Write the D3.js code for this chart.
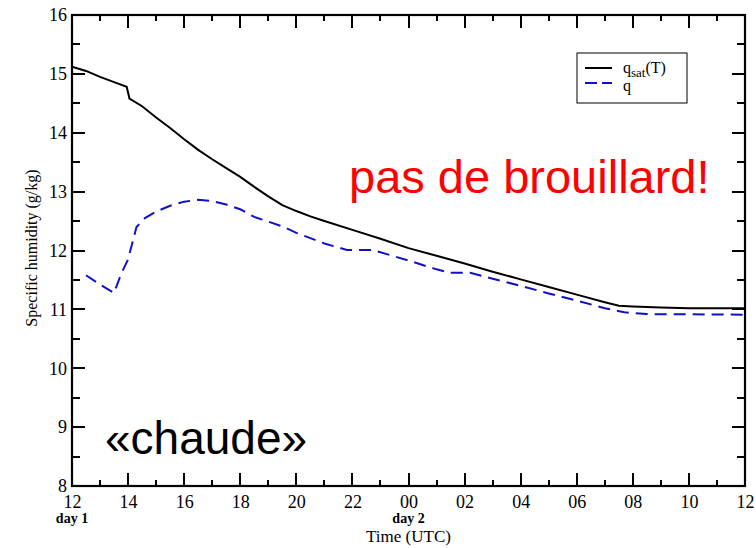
<!DOCTYPE html>
<html>
<head>
<meta charset="utf-8">
<script src="https://cdn.jsdelivr.net/npm/d3@7"></script>
<style>
  body { margin: 0; background: #fff; }
  svg { display: block; }
  .axis text { font-family: "Liberation Serif", "Times New Roman", serif; font-size: 18px; fill: #000; }
</style>
</head>
<body>
<div id="chart"></div>
<script>
// hours since 12 UTC on day 1
var qsatHours = [0, 0.5, 1, 1.5, 1.95, 2.05, 2.5, 3, 3.5, 4, 4.5, 5, 5.5, 6, 6.5, 7, 7.5, 8, 8.5, 9, 10, 11, 12, 13, 14, 15, 16, 17, 18, 19, 19.5, 20, 21, 22, 24];
var qsatValues = [15.12, 15.05, 14.95, 14.86, 14.78, 14.58, 14.45, 14.26, 14.08, 13.89, 13.71, 13.55, 13.40, 13.25, 13.08, 12.92, 12.77, 12.67, 12.58, 12.50, 12.35, 12.20, 12.04, 11.91, 11.78, 11.64, 11.51, 11.38, 11.25, 11.12, 11.06, 11.05, 11.03, 11.02, 11.02];

var qHours = [0.5, 1, 1.5, 1.75, 2, 2.3, 2.6, 3, 3.5, 4, 4.5, 5, 5.5, 6, 6.5, 7, 7.5, 8, 8.5, 9, 9.8, 10.7, 11.5, 12, 13, 13.5, 14.2, 15, 16, 17, 18, 19, 19.7, 20.5, 24];
var qValues = [11.58, 11.42, 11.28, 11.6, 11.85, 12.40, 12.55, 12.66, 12.76, 12.83, 12.86, 12.84, 12.78, 12.70, 12.57, 12.49, 12.41, 12.30, 12.21, 12.12, 12.01, 12.01, 11.90, 11.83, 11.68, 11.62, 11.62, 11.52, 11.40, 11.27, 11.15, 11.02, 10.95, 10.92, 10.91];

var xTickValues = [0, 2, 4, 6, 8, 10, 12, 14, 16, 18, 20, 22, 24];
var xTickLabels = ["12", "14", "16", "18", "20", "22", "00", "02", "04", "06", "08", "10", "12"];
var yTickValues = [8, 9, 10, 11, 12, 13, 14, 15, 16];

var margin = {top: 15, right: 11, bottom: 62, left: 72},
    width = 756 - margin.left - margin.right,
    height = 548 - margin.top - margin.bottom;

var svg = d3.select("#chart").append("svg")
    .attr("width", 756)
    .attr("height", 548)
    .append("g")
    .attr("transform", "translate(" + margin.left + "," + margin.top + ")");

var x = d3.scaleLinear().domain([0, 24]).range([0, width]);
var y = d3.scaleLinear().domain([8, 16]).range([height, 0]);

var qsat = qsatHours.map(function(h, i) { return {h: h, v: qsatValues[i]}; });
var q = qHours.map(function(h, i) { return {h: h, v: qValues[i]}; });

var minorX = d3.range(1, 24, 2);
var minorY = d3.range(8.5, 16, 1);

// tick labels from d3 axes
svg.append("g").attr("class", "axis")
    .attr("transform", "translate(0," + height + ")")
    .call(d3.axisBottom(x).tickValues(xTickValues).tickSize(0).tickPadding(9)
        .tickFormat(function(d, i) { return xTickLabels[i]; }));
svg.append("g").attr("class", "axis")
    .call(d3.axisLeft(y).tickValues(yTickValues).tickSize(0).tickPadding(5)
        .tickFormat(d3.format("d")));
svg.selectAll(".axis .domain").remove();

var line = d3.line()
    .x(function(d) { return x(d.h); })
    .y(function(d) { return y(d.v); });

svg.append("path").datum(qsat)
    .attr("d", line)
    .attr("fill", "none").attr("stroke", "#000").attr("stroke-width", 2);

svg.append("path").datum(q)
    .attr("d", line)
    .attr("fill", "none").attr("stroke", "#1010c8").attr("stroke-width", 2)
    .attr("stroke-dasharray", "12,7");

// legend
var lg = svg.append("g").attr("transform", "translate(" + (577 - margin.left) + "," + (53 - margin.top) + ")");
lg.append("rect").attr("width", 110).attr("height", 50)
    .attr("fill", "#fff").attr("stroke", "#000").attr("stroke-width", 1);
lg.append("line").attr("x1", 8).attr("x2", 35).attr("y1", 15).attr("y2", 15)
    .attr("stroke", "#000").attr("stroke-width", 2);
lg.append("line").attr("x1", 8).attr("x2", 35).attr("y1", 30).attr("y2", 30)
    .attr("stroke", "#1010c8").attr("stroke-width", 2).attr("stroke-dasharray", "12,5");
var t1 = lg.append("text").attr("x", 46).attr("y", 20)
    .style("font-family", "Liberation Serif, serif").style("font-size", "16px");
t1.append("tspan").text("q");
t1.append("tspan").attr("dy", 4).style("font-size", "13px").text("sat");
t1.append("tspan").attr("dy", -4).text("(T)");
lg.append("text").attr("x", 46).attr("y", 38)
    .style("font-family", "Liberation Serif, serif").style("font-size", "16px").text("q");

// x labels
svg.append("text").attr("x", x(0)).attr("y", height + 37)
    .attr("text-anchor", "middle")
    .style("font", "bold 14px 'Liberation Serif', serif").text("day 1");
svg.append("text").attr("x", x(12)).attr("y", height + 37)
    .attr("text-anchor", "middle")
    .style("font", "bold 14px 'Liberation Serif', serif").text("day 2");
svg.append("text").attr("x", x(12)).attr("y", height + 56)
    .attr("text-anchor", "middle")
    .style("font", "17px 'Liberation Serif', serif").text("Time (UTC)");

svg.append("text")
    .attr("transform", "translate(" + (37 - margin.left) + "," + (248 - margin.top) + ") rotate(-90)")
    .attr("text-anchor", "middle")
    .style("font", "16px 'Liberation Serif', serif").text("Specific humidity (g/kg)");

// annotations
svg.append("text").attr("x", 349 - margin.left).attr("y", 193 - margin.top)
    .style("font", "47px 'Liberation Sans', Arial, sans-serif").style("fill", "#ff0000")
    .text("pas de brouillard!");
svg.append("text").attr("x", 105 - margin.left).attr("y", 454 - margin.top)
    .style("font", "46px 'Liberation Sans', Arial, sans-serif").style("fill", "#000")
    .text("«chaude»");

// frame and inward ticks on all four sides, drawn last
svg.append("rect")
    .attr("width", width).attr("height", height)
    .attr("fill", "none").attr("stroke", "#000").attr("stroke-width", 2.2);

var ticks = svg.append("g").attr("stroke", "#000").attr("stroke-width", 2)
    .attr("shape-rendering", "crispEdges");
function xTicks(vals, len) {
    ticks.selectAll(null).data(vals).enter().append("line")
        .attr("x1", function(d) { return Math.round(x(d)); }).attr("x2", function(d) { return Math.round(x(d)); })
        .attr("y1", height).attr("y2", height - len);
    ticks.selectAll(null).data(vals).enter().append("line")
        .attr("x1", function(d) { return Math.round(x(d)); }).attr("x2", function(d) { return Math.round(x(d)); })
        .attr("y1", 0).attr("y2", len);
}
function yTicks(vals, len) {
    ticks.selectAll(null).data(vals).enter().append("line")
        .attr("y1", function(d) { return Math.round(y(d)); }).attr("y2", function(d) { return Math.round(y(d)); })
        .attr("x1", 0).attr("x2", len);
    ticks.selectAll(null).data(vals).enter().append("line")
        .attr("y1", function(d) { return Math.round(y(d)); }).attr("y2", function(d) { return Math.round(y(d)); })
        .attr("x1", width).attr("x2", width - len);
}
xTicks(xTickValues, 13);
xTicks(minorX, 6);
yTicks(yTickValues, 13);
yTicks(minorY, 8);
</script>
</body>
</html>
